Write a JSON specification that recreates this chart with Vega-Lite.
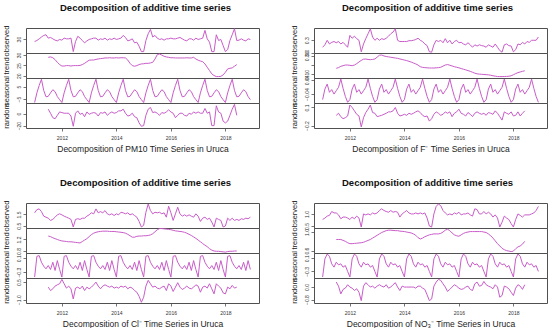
{
"$schema":"https://vega.github.io/schema/vega-lite/v6.json",
"padding":{"left":1,"top":3,"right":0,"bottom":0},
"background":"white",
"data":{"values":[
{"x":2011,"ao":26.5,"as":-7.8,"bo":0.13,"bs":-0.071,"co":1.65,"cs":-0.443,"eo":0.77,"es":-0.47},
{"x":2011.083,"ao":28,"as":0,"bo":0.19,"bs":-0.012,"co":1.94,"cs":0.157,"eo":0.83,"es":0.08},
{"x":2011.167,"ao":30.4,"as":6,"bo":0.30,"bs":0.016,"co":2.0,"cs":0.176,"eo":0.91,"es":0.23},
{"x":2011.25,"ao":33,"as":11,"bo":0.21,"bs":-0.03,"co":1.76,"cs":-0.015,"eo":0.94,"es":0.16},
{"x":2011.333,"ao":35.3,"as":2,"bo":0.25,"bs":-0.015,"co":1.35,"cs":-0.129,"eo":1.10,"es":-0.07},
{"x":2011.417,"ao":36.3,"as":-3.2,"bo":0.27,"bs":-0.04,"co":1.26,"cs":-0.205,"eo":1.04,"es":-0.17},
{"x":2011.5,"ao":31.4,"at":28.9,"as":-2.8,"ar":7.6,"bo":0.24,"bt":0.165,"bs":-0.021,"br":-0.03,"co":1.17,"ct":1.32,"cs":-0.11,"cr":0.07,"eo":1.04,"et":0.84,"es":-0.02,"er":0.32},
{"x":2011.583,"ao":32.4,"at":29.1,"as":0,"ar":0.8,"bo":0.27,"bt":0.172,"bs":-0.002,"br":0.004,"co":0.97,"ct":1.30,"cs":-0.224,"cr":-0.22,"eo":0.96,"et":0.84,"es":-0.1,"er":0.06},
{"x":2011.667,"ao":30.4,"at":28.7,"as":2.5,"ar":-6.7,"bo":0.21,"bt":0.186,"bs":0.044,"br":-0.052,"co":1.06,"ct":1.26,"cs":-0.015,"cr":-0.07,"eo":0.80,"et":0.84,"es":-0.07,"er":-0.44},
{"x":2011.75,"ao":28.5,"at":27.8,"as":1,"ar":-8.5,"bo":0.25,"bt":0.193,"bs":-0.008,"br":-0.086,"co":1.26,"ct":1.23,"cs":-0.253,"cr":0.16,"eo":0.87,"et":0.82,"es":-0.17,"er":-0.15},
{"x":2011.833,"ao":27.5,"at":26.5,"as":-3,"ar":-2.7,"bo":0.19,"bt":0.200,"bs":-0.053,"br":-0.069,"co":1.47,"ct":1.20,"cs":0.033,"cr":0.27,"eo":0.87,"et":0.80,"es":-0.12,"er":-0.07},
{"x":2011.917,"ao":29.5,"at":25.4,"as":-5.5,"ar":3,"bo":0.13,"bt":0.200,"bs":-0.086,"br":-0.041,"co":1.56,"ct":1.17,"cs":-0.224,"cr":0.36,"eo":0.83,"et":0.77,"es":-0.3,"er":0.15},
{"x":2012,"ao":28.5,"at":24.7,"as":-7.8,"ar":1.9,"bo":0.42,"bt":0.197,"bs":-0.071,"br":0.14,"co":1.47,"ct":1.15,"cs":-0.443,"cr":0.73,"eo":0.77,"et":0.75,"es":-0.47,"er":0},
{"x":2012.083,"ao":31.4,"at":24.7,"as":0,"ar":0.8,"bo":0.35,"bt":0.193,"bs":-0.012,"br":0.10,"co":1.35,"ct":1.14,"cs":0.157,"cr":0.36,"eo":0.87,"et":0.75,"es":0.08,"er":-0.07},
{"x":2012.167,"ao":30.4,"at":24.9,"as":6,"ar":0.8,"bo":0.40,"bt":0.200,"bs":0.016,"br":0.044,"co":1.26,"ct":1.13,"cs":0.176,"cr":-0.01,"eo":0.80,"et":0.755,"es":0.23,"er":-0.22},
{"x":2012.25,"ao":30.4,"at":24.9,"as":11,"ar":0.8,"bo":0.34,"bt":0.215,"bs":-0.03,"br":-0.013,"co":1.17,"ct":1.12,"cs":-0.015,"cr":0.16,"eo":0.91,"et":0.76,"es":0.16,"er":-0.11},
{"x":2012.333,"ao":31.4,"at":24.7,"as":2,"ar":-3.9,"bo":0.30,"bt":0.233,"bs":-0.015,"br":-0.041,"co":1.06,"ct":1.12,"cs":-0.129,"cr":-0.07,"eo":0.83,"et":0.765,"es":-0.07,"er":-0.33},
{"x":2012.417,"ao":12,"at":24.9,"as":-3.2,"ar":-21.1,"bo":0.02,"bt":0.25,"bs":-0.04,"br":-0.222,"co":0.38,"ct":1.11,"cs":-0.205,"cr":-0.94,"eo":0.46,"et":0.77,"es":-0.17,"er":-0.87},
{"x":2012.5,"ao":26.5,"at":24.9,"as":-2.8,"ar":0.8,"bo":0.21,"bt":0.263,"bs":-0.021,"br":-0.069,"co":1.06,"ct":1.10,"cs":-0.11,"cr":-0.01,"eo":1.0,"et":0.78,"es":-0.02,"er":0.06},
{"x":2012.583,"ao":34,"at":24.9,"as":0,"ar":4.8,"bo":0.34,"bt":0.265,"bs":-0.002,"br":0.016,"co":1.12,"ct":1.09,"cs":-0.224,"cr":0.07,"eo":0.96,"et":0.80,"es":-0.1,"er":0.28},
{"x":2012.667,"ao":31.4,"at":25.0,"as":2.5,"ar":-1,"bo":0.46,"bt":0.26,"bs":0.044,"br":0.072,"co":1.06,"ct":1.08,"cs":-0.015,"cr":-0.07,"eo":1.0,"et":0.82,"es":-0.07,"er":0.15},
{"x":2012.75,"ao":28,"at":25.4,"as":1,"ar":0.8,"bo":0.58,"bt":0.258,"bs":-0.008,"br":0.14,"co":1.17,"ct":1.13,"cs":-0.253,"cr":0.16,"eo":0.96,"et":0.84,"es":-0.17,"er":0},
{"x":2012.833,"ao":24.6,"at":26.0,"as":-3,"ar":-5,"bo":0.38,"bt":0.26,"bs":-0.053,"br":0.016,"co":1.17,"ct":1.18,"cs":0.033,"cr":-0.22,"eo":1.04,"et":0.87,"es":-0.12,"er":0.06},
{"x":2012.917,"ao":27.5,"at":26.8,"as":-5.5,"ar":3,"bo":0.30,"bt":0.266,"bs":-0.086,"br":0.004,"co":1.35,"ct":1.23,"cs":-0.224,"cr":0.07,"eo":1.0,"et":0.90,"es":-0.3,"er":-0.07},
{"x":2013,"ao":29.5,"at":27.5,"as":-7.8,"ar":-1,"bo":0.35,"bt":0.285,"bs":-0.071,"br":-0.052,"co":1.47,"ct":1.30,"cs":-0.443,"cr":-0.07,"eo":1.04,"et":0.93,"es":-0.47,"er":0.06},
{"x":2013.083,"ao":30.4,"at":27.6,"as":0,"ar":0.8,"bo":0.30,"bt":0.306,"bs":-0.012,"br":-0.041,"co":1.65,"ct":1.37,"cs":0.157,"cr":0.07,"eo":1.14,"et":0.96,"es":0.08,"er":0.15},
{"x":2013.167,"ao":31.4,"at":27.6,"as":6,"ar":1.9,"bo":0.34,"bt":0.308,"bs":0.016,"br":-0.03,"co":1.56,"ct":1.42,"cs":0.176,"cr":0.27,"eo":1.21,"et":0.99,"es":0.23,"er":0.06},
{"x":2013.25,"ao":31.4,"at":27.9,"as":11,"ar":0.8,"bo":0.32,"bt":0.298,"bs":-0.03,"br":-0.013,"co":2.0,"ct":1.45,"cs":-0.015,"cr":0.50,"eo":1.14,"et":1.01,"es":0.16,"er":0},
{"x":2013.333,"ao":28.5,"at":28.1,"as":2,"ar":-3.9,"bo":0.35,"bt":0.292,"bs":-0.015,"br":0.004,"co":1.65,"ct":1.47,"cs":-0.129,"cr":0.16,"eo":1.10,"et":1.03,"es":-0.07,"er":0.15},
{"x":2013.417,"ao":30.4,"at":28.3,"as":-3.2,"ar":1.9,"bo":0.40,"bt":0.288,"bs":-0.04,"br":0.027,"co":1.76,"ct":1.48,"cs":-0.205,"cr":-0.07,"eo":1.07,"et":1.04,"es":-0.17,"er":-0.07},
{"x":2013.5,"ao":29.5,"at":28.4,"as":-2.8,"ar":0.8,"bo":0.46,"bt":0.284,"bs":-0.021,"br":0.027,"co":1.65,"ct":1.49,"cs":-0.11,"cr":0.16,"eo":1.14,"et":1.04,"es":-0.02,"er":0},
{"x":2013.583,"ao":31.4,"at":28.6,"as":0,"ar":3,"bo":0.50,"bt":0.28,"bs":-0.002,"br":0.044,"co":1.85,"ct":1.49,"cs":-0.224,"cr":0.27,"eo":1.07,"et":1.035,"es":-0.1,"er":0.15},
{"x":2013.667,"ao":28.5,"at":28.6,"as":2.5,"ar":-2.7,"bo":0.58,"bt":0.276,"bs":0.044,"br":0.10,"co":1.56,"ct":1.49,"cs":-0.015,"cr":0.16,"eo":1.10,"et":1.03,"es":-0.07,"er":0.28},
{"x":2013.75,"ao":30.4,"at":28.7,"as":1,"ar":0.8,"bo":0.30,"bt":0.272,"bs":-0.008,"br":0.004,"co":1.47,"ct":1.48,"cs":-0.253,"cr":0.07,"eo":1.07,"et":1.03,"es":-0.17,"er":0},
{"x":2013.833,"ao":29.5,"at":28.6,"as":-3,"ar":3,"bo":0.27,"bt":0.266,"bs":-0.053,"br":-0.041,"co":1.56,"ct":1.48,"cs":0.033,"cr":0.16,"eo":0.87,"et":1.02,"es":-0.12,"er":-0.22},
{"x":2013.917,"ao":31.4,"at":28.6,"as":-5.5,"ar":0.8,"bo":0.27,"bt":0.26,"bs":-0.086,"br":-0.03,"co":1.41,"ct":1.48,"cs":-0.224,"cr":-0.01,"eo":1.0,"et":1.015,"es":-0.3,"er":0.06},
{"x":2014,"ao":29.5,"at":28.7,"as":-7.8,"ar":1.9,"bo":0.27,"bt":0.254,"bs":-0.071,"br":-0.013,"co":1.56,"ct":1.47,"cs":-0.443,"cr":0.07,"eo":1.07,"et":1.01,"es":-0.47,"er":0},
{"x":2014.083,"ao":30.4,"at":28.6,"as":0,"ar":4.8,"bo":0.27,"bt":0.248,"bs":-0.012,"br":-0.03,"co":1.47,"ct":1.46,"cs":0.157,"cr":-0.01,"eo":1.14,"et":1.0,"es":0.08,"er":0},
{"x":2014.167,"ao":31.4,"at":28.7,"as":6,"ar":4.8,"bo":0.29,"bt":0.24,"bs":0.016,"br":0.004,"co":1.70,"ct":1.45,"cs":0.176,"cr":0.16,"eo":1.04,"et":0.99,"es":0.23,"er":0},
{"x":2014.25,"ao":35.3,"at":28.7,"as":11,"ar":7.6,"bo":0.29,"bt":0.232,"bs":-0.03,"br":-0.013,"co":1.65,"ct":1.44,"cs":-0.015,"cr":0.07,"eo":1.0,"et":0.98,"es":0.16,"er":0},
{"x":2014.333,"ao":32.4,"at":28.6,"as":2,"ar":0.8,"bo":0.30,"bt":0.222,"bs":-0.015,"br":0.004,"co":1.56,"ct":1.42,"cs":-0.129,"cr":0.16,"eo":1.0,"et":0.96,"es":-0.07,"er":0},
{"x":2014.417,"ao":27.5,"at":27.6,"as":-3.2,"ar":-3.9,"bo":0.32,"bt":0.212,"bs":-0.04,"br":0.027,"co":1.65,"ct":1.38,"cs":-0.205,"cr":-0.07,"eo":1.04,"et":0.93,"es":-0.17,"er":-0.07},
{"x":2014.5,"ao":28.5,"at":26.0,"as":-2.8,"ar":-2.7,"bo":0.35,"bt":0.20,"bs":-0.021,"br":0.044,"co":1.47,"ct":1.33,"cs":-0.11,"cr":0.07,"eo":1.0,"et":0.88,"es":-0.02,"er":0.06},
{"x":2014.583,"ao":30.4,"at":24.9,"as":0,"ar":0.8,"bo":0.30,"bt":0.182,"bs":-0.002,"br":0.016,"co":1.56,"ct":1.28,"cs":-0.224,"cr":-0.01,"eo":1.04,"et":0.85,"es":-0.1,"er":0.06},
{"x":2014.667,"ao":24.6,"at":24.6,"as":2.5,"ar":-5,"bo":0.27,"bt":0.175,"bs":0.044,"br":-0.03,"co":1.41,"ct":1.28,"cs":-0.015,"cr":-0.22,"eo":1.0,"et":0.87,"es":-0.07,"er":-0.07},
{"x":2014.75,"ao":25.6,"at":24.9,"as":1,"ar":-6.7,"bo":0.21,"bt":0.172,"bs":-0.008,"br":-0.052,"co":1.26,"ct":1.31,"cs":-0.253,"cr":-0.36,"eo":1.04,"et":0.90,"es":-0.17,"er":-0.15},
{"x":2014.833,"ao":19.8,"at":25.4,"as":-3,"ar":-15.4,"bo":0.17,"bt":0.17,"bs":-0.053,"br":-0.041,"co":0.88,"ct":1.32,"cs":0.033,"cr":-0.71,"eo":0.83,"et":0.92,"es":-0.12,"er":-0.50},
{"x":2014.917,"ao":12,"at":25.7,"as":-5.5,"ar":-21.1,"bo":0.02,"bt":0.168,"bs":-0.086,"br":-0.126,"co":0.38,"ct":1.32,"cs":-0.224,"cr":-1.22,"eo":0.50,"et":0.94,"es":-0.3,"er":-0.87},
{"x":2015,"ao":12,"at":25.8,"as":-7.8,"ar":-20,"bo":0.01,"bt":0.168,"bs":-0.071,"br":-0.086,"co":0.53,"ct":1.33,"cs":-0.443,"cr":-0.79,"eo":0.46,"et":0.95,"es":-0.47,"er":-0.76},
{"x":2015.083,"ao":28,"at":26.0,"as":0,"ar":-2.7,"bo":0.19,"bt":0.168,"bs":-0.012,"br":-0.013,"co":1.70,"ct":1.33,"cs":0.157,"cr":0.16,"eo":1.0,"et":0.96,"es":0.08,"er":0.06},
{"x":2015.167,"ao":37.7,"at":26.0,"as":6,"ar":7.6,"bo":0.30,"bt":0.17,"bs":0.016,"br":0.027,"co":2.44,"ct":1.34,"cs":0.176,"cr":0.65,"eo":1.31,"et":0.96,"es":0.23,"er":0.32},
{"x":2015.25,"ao":44,"at":26.2,"as":11,"ar":10.5,"bo":0.27,"bt":0.172,"bs":-0.03,"br":0.004,"co":1.85,"ct":1.36,"cs":-0.015,"cr":0.36,"eo":1.41,"et":0.96,"es":0.16,"er":0.49},
{"x":2015.333,"ao":33,"at":26.5,"as":2,"ar":1.9,"bo":0.30,"bt":0.176,"bs":-0.015,"br":-0.03,"co":1.56,"ct":1.40,"cs":-0.129,"cr":0.07,"eo":1.34,"et":0.97,"es":-0.07,"er":0.43},
{"x":2015.417,"ao":35.3,"at":28.1,"as":-3.2,"ar":3,"bo":0.24,"bt":0.188,"bs":-0.04,"br":-0.013,"co":1.70,"ct":1.47,"cs":-0.205,"cr":0.16,"eo":1.14,"et":1.0,"es":-0.17,"er":0.21},
{"x":2015.5,"ao":31.4,"at":30.2,"as":-2.8,"ar":0.8,"bo":0.34,"bt":0.20,"bs":-0.021,"br":0.027,"co":1.65,"ct":1.54,"cs":-0.11,"cr":-0.01,"eo":1.04,"et":1.04,"es":-0.02,"er":0},
{"x":2015.583,"ao":29.5,"at":30.5,"as":0,"ar":-2.7,"bo":0.24,"bt":0.205,"bs":-0.002,"br":0.004,"co":1.70,"ct":1.58,"cs":-0.224,"cr":-0.07,"eo":0.96,"et":1.06,"es":-0.1,"er":-0.28},
{"x":2015.667,"ao":30.4,"at":30.0,"as":2.5,"ar":1.9,"bo":0.30,"bt":0.198,"bs":0.044,"br":0.027,"co":1.56,"ct":1.58,"cs":-0.015,"cr":0.07,"eo":1.0,"et":1.03,"es":-0.07,"er":-0.15},
{"x":2015.75,"ao":28.5,"at":29.4,"as":1,"ar":0.8,"bo":0.21,"bt":0.19,"bs":-0.008,"br":-0.052,"co":1.65,"ct":1.57,"cs":-0.253,"cr":0.16,"eo":0.96,"et":0.98,"es":-0.17,"er":0},
{"x":2015.833,"ao":30.4,"at":29.1,"as":-3,"ar":3,"bo":0.27,"bt":0.182,"bs":-0.053,"br":0.004,"co":1.26,"ct":1.56,"cs":0.033,"cr":-0.22,"eo":1.04,"et":0.94,"es":-0.12,"er":0.15},
{"x":2015.917,"ao":30.4,"at":28.9,"as":-5.5,"ar":6.5,"bo":0.30,"bt":0.176,"bs":-0.086,"br":0.027,"co":2.24,"ct":1.55,"cs":-0.224,"cr":0.36,"eo":1.0,"et":0.92,"es":-0.3,"er":0.06},
{"x":2016,"ao":31.4,"at":28.7,"as":-7.8,"ar":3,"bo":0.24,"bt":0.17,"bs":-0.071,"br":0.072,"co":1.65,"ct":1.54,"cs":-0.443,"cr":0.16,"eo":1.07,"et":0.91,"es":-0.47,"er":-0.07},
{"x":2016.083,"ao":30.4,"at":28.7,"as":0,"ar":0.8,"bo":0.25,"bt":0.162,"bs":-0.012,"br":0.004,"co":0.97,"ct":1.52,"cs":0.157,"cr":-0.30,"eo":0.96,"et":0.94,"es":0.08,"er":-0.15},
{"x":2016.167,"ao":30.4,"at":28.6,"as":6,"ar":-6.7,"bo":0.21,"bt":0.155,"bs":0.016,"br":-0.013,"co":1.56,"ct":1.50,"cs":0.176,"cr":0.07,"eo":1.0,"et":0.97,"es":0.23,"er":-0.11},
{"x":2016.25,"ao":31.4,"at":28.6,"as":11,"ar":-2.7,"bo":0.19,"bt":0.148,"bs":-0.03,"br":-0.041,"co":2.15,"ct":1.49,"cs":-0.015,"cr":0.45,"eo":1.0,"et":0.99,"es":0.16,"er":0},
{"x":2016.333,"ao":32.4,"at":28.6,"as":2,"ar":0.8,"bo":0.24,"bt":0.14,"bs":-0.015,"br":0.016,"co":1.56,"ct":1.48,"cs":-0.129,"cr":0.07,"eo":1.04,"et":1.0,"es":-0.07,"er":0.06},
{"x":2016.417,"ao":30.4,"at":28.6,"as":-3.2,"ar":0.8,"bo":0.19,"bt":0.132,"bs":-0.04,"br":-0.013,"co":1.35,"ct":1.47,"cs":-0.205,"cr":-0.13,"eo":0.96,"et":1.01,"es":-0.17,"er":-0.15},
{"x":2016.5,"ao":28.5,"at":28.6,"as":-2.8,"ar":-2.7,"bo":0.13,"bt":0.122,"bs":-0.021,"br":-0.052,"co":1.47,"ct":1.45,"cs":-0.11,"cr":-0.01,"eo":0.91,"et":1.01,"es":-0.02,"er":-0.22},
{"x":2016.583,"ao":27.5,"at":28.7,"as":0,"ar":-3.9,"bo":0.19,"bt":0.112,"bs":-0.002,"br":0.004,"co":1.35,"ct":1.42,"cs":-0.224,"cr":0.16,"eo":1.21,"et":1.01,"es":-0.1,"er":0.21},
{"x":2016.667,"ao":30.4,"at":28.6,"as":2.5,"ar":0.8,"bo":0.16,"bt":0.105,"bs":0.044,"br":0.027,"co":1.47,"ct":1.38,"cs":-0.015,"cr":-0.01,"eo":1.18,"et":1.01,"es":-0.07,"er":0.32},
{"x":2016.75,"ao":30.4,"at":28.6,"as":1,"ar":-1,"bo":0.19,"bt":0.102,"bs":-0.008,"br":0.004,"co":1.35,"ct":1.34,"cs":-0.253,"cr":-0.07,"eo":1.0,"et":1.01,"es":-0.17,"er":0.06},
{"x":2016.833,"ao":28.5,"at":28.9,"as":-3,"ar":3,"bo":0.17,"bt":0.10,"bs":-0.053,"br":-0.013,"co":1.26,"ct":1.29,"cs":0.033,"cr":0.07,"eo":1.0,"et":1.01,"es":-0.12,"er":0.10},
{"x":2016.917,"ao":31.4,"at":28.1,"as":-5.5,"ar":0.8,"bo":0.16,"bt":0.098,"bs":-0.086,"br":0.004,"co":1.56,"ct":1.24,"cs":-0.224,"cr":0.27,"eo":1.10,"et":1.0,"es":-0.3,"er":0.36},
{"x":2017,"ao":29.5,"at":27.5,"as":-7.8,"ar":3,"bo":0.13,"bt":0.096,"bs":-0.071,"br":-0.03,"co":1.35,"ct":1.18,"cs":-0.443,"cr":0.16,"eo":1.0,"et":0.99,"es":-0.47,"er":0.15},
{"x":2017.083,"ao":30.4,"at":27.1,"as":0,"ar":0.8,"bo":0.19,"bt":0.094,"bs":-0.012,"br":0.016,"co":0.88,"ct":1.12,"cs":0.157,"cr":-0.36,"eo":1.07,"et":0.96,"es":0.08,"er":0.06},
{"x":2017.167,"ao":31.4,"at":26.8,"as":6,"ar":0.8,"bo":0.16,"bt":0.09,"bs":0.016,"br":0.004,"co":1.17,"ct":1.06,"cs":0.176,"cr":0.07,"eo":1.0,"et":0.92,"es":0.23,"er":0},
{"x":2017.25,"ao":42.6,"at":25.7,"as":11,"ar":8.8,"bo":0.13,"bt":0.084,"bs":-0.03,"br":-0.013,"co":1.26,"ct":1.0,"cs":-0.015,"cr":0.16,"eo":0.87,"et":0.87,"es":0.16,"er":-0.11},
{"x":2017.333,"ao":30.4,"at":24.1,"as":2,"ar":0.8,"bo":0.21,"bt":0.08,"bs":-0.015,"br":0.044,"co":1.06,"ct":0.95,"cs":-0.129,"cr":-0.01,"eo":0.96,"et":0.81,"es":-0.07,"er":0.15},
{"x":2017.417,"ao":25.6,"at":22.5,"as":-3.2,"ar":3,"bo":0.13,"bt":0.076,"bs":-0.04,"br":0.004,"co":1.17,"ct":0.88,"cs":-0.205,"cr":0.36,"eo":0.83,"et":0.75,"es":-0.17,"er":0},
{"x":2017.5,"ao":12,"at":20.9,"as":-2.8,"ar":-20,"bo":0.05,"bt":0.075,"bs":-0.021,"br":-0.052,"co":0.82,"ct":0.83,"cs":-0.11,"cr":-0.07,"eo":0.46,"et":0.70,"es":-0.02,"er":-0.65},
{"x":2017.583,"ao":12,"at":20.1,"as":0,"ar":-20,"bo":0.01,"bt":0.075,"bs":-0.002,"br":-0.109,"co":0.38,"ct":0.80,"cs":-0.224,"cr":-0.50,"eo":0.66,"et":0.65,"es":-0.1,"er":-0.54},
{"x":2017.667,"ao":36.3,"at":19.6,"as":2.5,"ar":13.4,"bo":0.19,"bt":0.076,"bs":0.044,"br":0.027,"co":1.17,"ct":0.79,"cs":-0.015,"cr":0.36,"eo":0.91,"et":0.62,"es":-0.07,"er":0.06},
{"x":2017.75,"ao":28,"at":19.6,"as":1,"ar":3,"bo":0.21,"bt":0.077,"bs":-0.008,"br":0.004,"co":1.06,"ct":0.79,"cs":-0.253,"cr":0.16,"eo":0.83,"et":0.60,"es":-0.17,"er":0},
{"x":2017.833,"ao":29.5,"at":19.7,"as":-3,"ar":0.8,"bo":0.17,"bt":0.079,"bs":-0.053,"br":-0.013,"co":0.97,"ct":0.78,"cs":0.033,"cr":-0.01,"eo":0.77,"et":0.59,"es":-0.12,"er":-0.11},
{"x":2017.917,"ao":20.7,"at":20.4,"as":-5.5,"ar":-12.5,"bo":0.16,"bt":0.084,"bs":-0.086,"br":0.027,"co":0.38,"ct":0.77,"cs":-0.224,"cr":-0.42,"eo":0.60,"et":0.58,"es":-0.3,"er":-0.33},
{"x":2018,"ao":12,"at":21.7,"as":-7.8,"ar":-15.4,"bo":0.02,"bt":0.095,"bs":-0.071,"br":-0.041,"co":0.47,"ct":0.76,"cs":-0.443,"cr":-0.50,"eo":0.46,"et":0.59,"es":-0.47,"er":-0.54},
{"x":2018.083,"ao":14.9,"at":23.3,"as":0,"ar":-12.5,"bo":0.07,"bt":0.108,"bs":-0.012,"br":-0.03,"co":1.17,"ct":0.78,"cs":0.157,"cr":0.07,"eo":0.77,"et":0.64,"es":0.08,"er":-0.07},
{"x":2018.167,"ao":28,"at":23.6,"as":6,"ar":-2.7,"bo":0.21,"bt":0.118,"bs":0.016,"br":0.027,"co":0.97,"ct":0.79,"cs":0.176,"cr":-0.07,"eo":1.0,"et":0.68,"es":0.23,"er":0.15},
{"x":2018.25,"ao":36.3,"at":23.8,"as":11,"ar":7.6,"bo":0.19,"bt":0.125,"bs":-0.03,"br":-0.041,"co":1.17,"ct":0.79,"cs":-0.015,"cr":0.22,"eo":0.94,"et":0.70,"es":0.16,"er":0.06},
{"x":2018.333,"ao":45,"at":24.6,"as":2,"ar":15.7,"bo":0.25,"bt":0.132,"bs":-0.015,"br":0.004,"co":0.97,"ct":0.80,"cs":-0.129,"cr":-0.01,"eo":0.87,"et":0.74,"es":-0.07,"er":-0.15},
{"x":2018.417,"ao":28,"at":25.4,"as":-3.2,"ar":-2.7,"bo":0.21,"bt":0.138,"bs":-0.04,"br":0.044,"co":1.06,"ct":0.80,"cs":-0.205,"cr":0.07,"eo":0.96,"et":0.80,"es":-0.17,"er":0.15},
{"x":2018.5,"ao":28.5,"as":-2.8,"bo":0.27,"bs":-0.021,"co":0.97,"cs":-0.11,"eo":0.96,"es":-0.02},
{"x":2018.583,"ao":30.4,"as":0,"bo":0.25,"bs":-0.002,"co":1.12,"cs":-0.224,"eo":0.96,"es":-0.1},
{"x":2018.667,"ao":28.5,"as":2.5,"bo":0.30,"bs":0.044,"co":1.06,"cs":-0.015,"eo":1.0,"es":-0.07},
{"x":2018.75,"ao":27.5,"as":1,"bo":0.30,"bs":-0.008,"co":1.17,"cs":-0.253,"eo":1.04,"es":-0.17},
{"x":2018.833,"ao":30.4,"as":-3,"bo":0.30,"bs":-0.053,"co":1.12,"cs":0.033,"eo":1.14,"es":-0.12},
{"x":2018.917,"ao":29.5,"as":-5.5,"bo":0.38,"bs":-0.086,"co":1.26,"cs":-0.224,"eo":1.31,"es":-0.3}
]},
"spacing":25,
"vconcat":[
{"hconcat":[
{"title":{"text":"Decomposition of additive time series","dx":15},"spacing":0,"bounds":"flush","vconcat":[
{"width":233,"height":25,"mark":"line","encoding":{"x":{"field":"x","type":"quantitative","scale":{"domain":[2010.683,2019.233],"nice":false,"zero":false},"axis":null},"y":{"field":"ao","type":"quantitative","scale":{"domain":[10,46],"nice":false,"zero":false},"axis":{"title":"observed","values":[30],"format":"d"}}}},
{"width":233,"height":25,"mark":"line","encoding":{"x":{"field":"x","type":"quantitative","scale":{"domain":[2010.683,2019.233],"nice":false,"zero":false},"axis":null},"y":{"field":"at","type":"quantitative","scale":{"domain":[18.9,31],"nice":false,"zero":false},"axis":{"title":"trend","values":[20,25,30],"format":"d"}}}},
{"width":233,"height":25,"mark":"line","encoding":{"x":{"field":"x","type":"quantitative","scale":{"domain":[2010.683,2019.233],"nice":false,"zero":false},"axis":null},"y":{"field":"as","type":"quantitative","scale":{"domain":[-8.2,12],"nice":false,"zero":false},"axis":{"title":"seasonal","values":[-5,5],"format":"d"}}}},
{"width":233,"height":25,"mark":"line","encoding":{"x":{"field":"x","type":"quantitative","scale":{"domain":[2010.683,2019.233],"nice":false,"zero":false},"axis":{"title":"Decomposition of PM10 Time Series in Uruca","values":[2012,2014,2016,2018],"format":"d"}},"y":{"field":"ar","type":"quantitative","scale":{"domain":[-24,18],"nice":false,"zero":false},"axis":{"title":"random","values":[-20,0],"format":"d"}}}}
]},
{"title":{"text":"Decomposition of additive time series","dx":9},"spacing":0,"bounds":"flush","vconcat":[
{"width":233,"height":25,"mark":"line","encoding":{"x":{"field":"x","type":"quantitative","scale":{"domain":[2010.683,2019.233],"nice":false,"zero":false},"axis":null},"y":{"field":"bo","type":"quantitative","scale":{"domain":[-0.01,0.6],"nice":false,"zero":false},"axis":{"title":"observed","values":[0,0.3],"format":".1f"}}}},
{"width":233,"height":25,"mark":"line","encoding":{"x":{"field":"x","type":"quantitative","scale":{"domain":[2010.683,2019.233],"nice":false,"zero":false},"axis":null},"y":{"field":"bt","type":"quantitative","scale":{"domain":[0.06,0.33],"nice":false,"zero":false},"axis":{"title":"trend","values":[0.1,0.2,0.3],"format":".2f"}}}},
{"width":233,"height":25,"mark":"line","encoding":{"x":{"field":"x","type":"quantitative","scale":{"domain":[2010.683,2019.233],"nice":false,"zero":false},"axis":null},"y":{"field":"bs","type":"quantitative","scale":{"domain":[-0.09,0.05],"nice":false,"zero":false},"axis":{"title":"seasonal","values":[-0.04,0.04],"format":".2f"}}}},
{"width":233,"height":25,"mark":"line","encoding":{"x":{"field":"x","type":"quantitative","scale":{"domain":[2010.683,2019.233],"nice":false,"zero":false},"axis":{"title":"Decomposition of F⁻ Time Series in Uruca","values":[2012,2014,2016,2018],"format":"d"}},"y":{"field":"br","type":"quantitative","scale":{"domain":[-0.24,0.174],"nice":false,"zero":false},"axis":{"title":"random","values":[-0.2,0.1],"format":".1f"}}}}
]}
],"spacing":29},
{"hconcat":[
{"title":{"text":"Decomposition of additive time series","dx":15},"spacing":0,"bounds":"flush","vconcat":[
{"width":233,"height":25,"mark":"line","encoding":{"x":{"field":"x","type":"quantitative","scale":{"domain":[2010.683,2019.233],"nice":false,"zero":false},"axis":null},"y":{"field":"co","type":"quantitative","scale":{"domain":[0.29,2.53],"nice":false,"zero":false},"axis":{"title":"observed","values":[0.5,1.5],"format":".1f"}}}},
{"width":233,"height":25,"mark":"line","encoding":{"x":{"field":"x","type":"quantitative","scale":{"domain":[2010.683,2019.233],"nice":false,"zero":false},"axis":null},"y":{"field":"ct","type":"quantitative","scale":{"domain":[0.73,1.6],"nice":false,"zero":false},"axis":{"title":"trend","values":[0.8,1.2],"format":".1f"}}}},
{"width":233,"height":25,"mark":"line","encoding":{"x":{"field":"x","type":"quantitative","scale":{"domain":[2010.683,2019.233],"nice":false,"zero":false},"axis":null},"y":{"field":"cs","type":"quantitative","scale":{"domain":[-0.47,0.252],"nice":false,"zero":false},"axis":{"title":"seasonal","values":[-0.3,0.1],"format":".1f"}}}},
{"width":233,"height":25,"mark":"line","encoding":{"x":{"field":"x","type":"quantitative","scale":{"domain":[2010.683,2019.233],"nice":false,"zero":false},"axis":{"title":"Decomposition of Cl⁻ Time Series in Uruca","values":[2012,2014,2016,2018],"format":"d"}},"y":{"field":"cr","type":"quantitative","scale":{"domain":[-1.28,0.85],"nice":false,"zero":false},"axis":{"title":"random","values":[-1.0,0.5],"format":".1f"}}}}
]},
{"title":{"text":"Decomposition of additive time series","dx":9},"spacing":0,"bounds":"flush","vconcat":[
{"width":233,"height":25,"mark":"line","encoding":{"x":{"field":"x","type":"quantitative","scale":{"domain":[2010.683,2019.233],"nice":false,"zero":false},"axis":null},"y":{"field":"eo","type":"quantitative","scale":{"domain":[0.42,1.45],"nice":false,"zero":false},"axis":{"title":"observed","values":[0.5,1.0],"format":".1f"}}}},
{"width":233,"height":25,"mark":"line","encoding":{"x":{"field":"x","type":"quantitative","scale":{"domain":[2010.683,2019.233],"nice":false,"zero":false},"axis":null},"y":{"field":"et","type":"quantitative","scale":{"domain":[0.549,1.087],"nice":false,"zero":false},"axis":{"title":"trend","values":[0.6,1.0],"format":".1f"}}}},
{"width":233,"height":25,"mark":"line","encoding":{"x":{"field":"x","type":"quantitative","scale":{"domain":[2010.683,2019.233],"nice":false,"zero":false},"axis":null},"y":{"field":"es","type":"quantitative","scale":{"domain":[-0.5,0.26],"nice":false,"zero":false},"axis":{"title":"seasonal","values":[-0.3,0.1],"format":".1f"}}}},
{"width":233,"height":25,"mark":"line","encoding":{"x":{"field":"x","type":"quantitative","scale":{"domain":[2010.683,2019.233],"nice":false,"zero":false},"axis":{"title":"Decomposition of NO₃⁻ Time Series in Uruca","values":[2012,2014,2016,2018],"format":"d"}},"y":{"field":"er","type":"quantitative","scale":{"domain":[-1.02,0.58],"nice":false,"zero":false},"axis":{"title":"random","values":[-0.8,0.0],"format":".1f"}}}}
]}
],"spacing":29}
],
"config":{
"font":"Liberation Sans",
"view":{"stroke":"#505050","strokeWidth":1},
"line":{"color":"#c95cc9","strokeWidth":1},
"axis":{"grid":false,"domain":false,"tickSize":3,"tickColor":"#505050","tickWidth":0.8,"labelFontSize":5,"labelColor":"#333","titleFontWeight":"normal","titleColor":"#222"},
"axisY":{"labelAngle":-90,"labelPadding":2,"titleFontSize":7.5,"titlePadding":6},
"axisX":{"labelPadding":4,"titleFontSize":8.5,"titlePadding":4},
"title":{"fontSize":9.5,"fontWeight":"bold","color":"#111","anchor":"middle","offset":12}
}
}
